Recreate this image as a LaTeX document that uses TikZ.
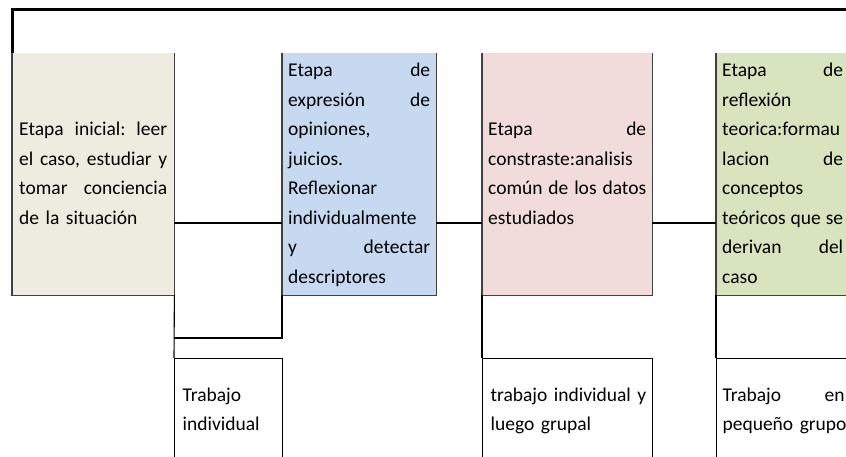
\documentclass[tikz,border=0pt]{standalone}
\usepackage{fontspec}
\setmainfont{Carlito}
\setlength\parindent{0pt}
\newcommand\J[1]{\makebox[\hsize][s]{\spaceskip=0.25em plus 1fil\xspaceskip=\spaceskip\strut#1}}
\newcommand\Lf[1]{\makebox[\hsize][l]{\strut#1}}
\definecolor{beigec}{HTML}{EEECE1}
\definecolor{bluec}{HTML}{C6D9F1}
\definecolor{pinkc}{HTML}{F2DCDB}
\definecolor{greenc}{HTML}{D7E4BD}
\definecolor{edgec}{HTML}{404040}
\begin{document}
\begin{tikzpicture}[x=1pt,y=-1pt,
  stage/.style={anchor=north west, inner xsep=6pt, inner ysep=0pt, minimum height=242pt,
    text width=#1, align=left, font=\fontsize{19.5}{29.5}\selectfont},
  note/.style={anchor=north west, inner xsep=8pt, inner ysep=0pt, minimum height=104pt,
    text width=#1, align=left, font=\fontsize{19.5}{29}\selectfont, draw=black, line width=1.2pt},
  rim/.style={draw=edgec, line width=1.3pt},
  link/.style={draw=black, line width=1.1pt},
  frame/.style={draw=black, line width=3pt}]
\useasboundingbox (0,0) rectangle (846,457);
\begin{scope}
\clip (0,0) rectangle (846,457);
\coordinate (lvl) at (0,223);
% stage boxes
\node[stage=148pt, inner xsep=7pt, fill=beigec] (s1) at (12,53)
  {\J{Etapa inicial: leer}\\\J{el caso, estudiar y}\\\J{tomar conciencia}\\\Lf{de la situación}};
\node[stage=142pt, fill=bluec] (s2) at (282,53)
  {\J{Etapa de}\\\J{expresión de}\\\Lf{opiniones,}\\\Lf{juicios.}\\\Lf{Reflexionar}\\\Lf{individualmente}\\\J{y detectar}\\\Lf{descriptores}};
\node[stage=158pt, fill=pinkc] (s3) at (482,53)
  {\J{Etapa de}\\\Lf{constraste:analisis}\\\J{común de los datos}\\\Lf{estudiados}};
\node[stage=121pt, fill=greenc] (s4) at (716,53)
  {\J{Etapa de}\\\Lf{reflexión}\\\Lf{teorica:formau}\\\J{lacion de}\\\Lf{conceptos}\\\J{teóricos que se}\\\J{derivan del}\\\Lf{caso}};
\foreach \s in {s1,s2,s3,s4}
  \draw[rim] (\s.north west) -- (\s.south west) -- (\s.south east) -- (\s.north east);
% top frame
\draw[frame] (s1.north west) -- (12,10) -- (860,10);
% connectors
\draw[link] (s1.east |- lvl) -- (s2.west |- lvl);
\draw[link] (s2.east |- lvl) -- (s3.west |- lvl);
\draw[link] (s3.east |- lvl) -- (s4.west |- lvl);
% lower cells
\node[note=92pt] (n1) at (174,358) {\Lf{Trabajo}\\\Lf{individual}};
\node[note=154pt] (n2) at (482,358) {\Lf{trabajo individual y}\\\Lf{luego grupal}};
\node[note=122pt, inner xsep=6pt] (n3) at (716,358) {\J{Trabajo en}\\\Lf{pequeño grupo}};
\draw[link] (s1.south east) -- (n1.north west);
\draw[link] (s2.south west) -- (282,338) -- (174,338);
\draw[link] (s3.south west) -- (n2.north west);
\draw[link] (s4.south west) -- (n3.north west);
\end{scope}
\end{tikzpicture}
\end{document}
